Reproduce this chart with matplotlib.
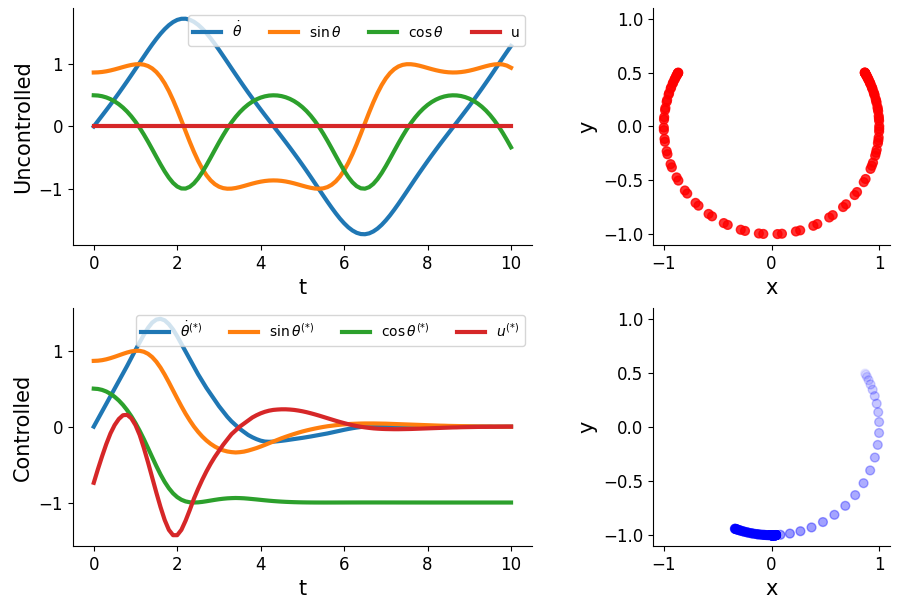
import numpy as np
import matplotlib.pyplot as plt

# time grid (dt = 0.1)
t = np.linspace(0, 10, 101)

# uncontrolled run: angle, angular velocity, control
theta_unc = [
    1.0472, 1.0515, 1.0645, 1.0863, 1.1169, 1.1565, 1.2053, 1.2634, 1.3310, 1.4083,
    1.4955, 1.5927, 1.6999, 1.8170, 1.9438, 2.0799, 2.2248, 2.3776, 2.5373, 2.7027,
    2.8723, 3.0446, 3.2179, 3.3904, 3.5604, 3.7264, 3.8869, 4.0405, 4.1864, 4.3236,
    4.4516, 4.5698, 4.6782, 4.7766, 4.8650, 4.9435, 5.0123, 5.0715, 5.1214, 5.1621,
    5.1938, 5.2166, 5.2307, 5.2359, 5.2327, 5.2208, 5.2000, 5.1705, 5.1320, 5.0843,
    5.0273, 4.9609, 4.8848, 4.7988, 4.7028, 4.5968, 4.4808, 4.3552, 4.2202, 4.0763,
    3.9243, 3.7654, 3.6006, 3.4314, 3.2593, 3.0861, 2.9133, 2.7429, 2.5763, 2.4151,
    2.2605, 2.1136, 1.9754, 1.8463, 1.7268, 1.6172, 1.5176, 1.4283, 1.3487, 1.2788,
    1.2184, 1.1674, 1.1256, 1.0929, 1.0690, 1.0539, 1.0474, 1.0497, 1.0606, 1.0803,
    1.1088, 1.1462, 1.1928, 1.2486, 1.3139, 1.3889, 1.4737, 1.5685, 1.6733, 1.7880,
    1.9125,
]
thetadot_unc = [
    0.000, 0.087, 0.174, 0.262, 0.351, 0.442, 0.534, 0.629, 0.725, 0.823,
    0.922, 1.022, 1.121, 1.220, 1.315, 1.405, 1.488, 1.562, 1.625, 1.675,
    1.710, 1.728, 1.729, 1.713, 1.680, 1.632, 1.571, 1.498, 1.415, 1.326,
    1.231, 1.133, 1.034, 0.934, 0.835, 0.737, 0.640, 0.545, 0.453, 0.362,
    0.272, 0.184, 0.097, 0.010, -0.076, -0.163, -0.251, -0.340, -0.431, -0.523,
    -0.617, -0.713, -0.811, -0.910, -1.010, -1.110, -1.208, -1.303, -1.394, -1.479,
    -1.554, -1.619, -1.670, -1.707, -1.727, -1.730, -1.716, -1.685, -1.639, -1.579,
    -1.507, -1.426, -1.337, -1.243, -1.145, -1.046, -0.946, -0.846, -0.748, -0.652,
    -0.557, -0.464, -0.373, -0.283, -0.195, -0.108, -0.021, 0.066, 0.153, 0.241,
    0.329, 0.420, 0.512, 0.606, 0.702, 0.799, 0.898, 0.998, 1.098, 1.196,
    1.292,
]
u_unc = np.zeros(len(t))

# controlled run
theta_ctl = [
    1.047, 1.052, 1.066, 1.090, 1.124, 1.167, 1.219, 1.281, 1.353, 1.434,
    1.525, 1.626, 1.737, 1.857, 1.984, 2.117, 2.252, 2.387, 2.518, 2.644,
    2.761, 2.870, 2.970, 3.059, 3.140, 3.210, 3.272, 3.325, 3.370, 3.407,
    3.437, 3.459, 3.475, 3.484, 3.489, 3.485, 3.477, 3.463, 3.446, 3.428,
    3.407, 3.385, 3.362, 3.340, 3.318, 3.296, 3.276, 3.257, 3.239, 3.222,
    3.206, 3.192, 3.179, 3.167, 3.156, 3.146, 3.137, 3.130, 3.123, 3.117,
    3.112, 3.108, 3.105, 3.103, 3.101, 3.100, 3.100, 3.100, 3.101, 3.102,
    3.103, 3.105, 3.107, 3.109, 3.111, 3.113, 3.115, 3.117, 3.119, 3.121,
    3.123, 3.125, 3.127, 3.129, 3.130, 3.132, 3.133, 3.134, 3.135, 3.136,
    3.137, 3.138, 3.139, 3.139, 3.140, 3.140, 3.141, 3.141, 3.141, 3.1416,
    3.1416,
]
thetadot_ctl = [
    0.000, 0.100, 0.200, 0.300, 0.400, 0.500, 0.600, 0.700, 0.800, 0.905,
    1.010, 1.110, 1.210, 1.300, 1.370, 1.410, 1.420, 1.400, 1.350, 1.280,
    1.190, 1.090, 0.990, 0.890, 0.790, 0.690, 0.600, 0.510, 0.430, 0.350,
    0.270, 0.200, 0.130, 0.070, 0.020, -0.030, -0.070, -0.110, -0.140, -0.165,
    -0.185, -0.197, -0.200, -0.198, -0.193, -0.187, -0.180, -0.172, -0.164, -0.156,
    -0.148, -0.139, -0.130, -0.120, -0.110, -0.100, -0.090, -0.078, -0.066, -0.054,
    -0.042, -0.031, -0.021, -0.012, -0.005, 0.000, 0.004, 0.007, 0.009, 0.011,
    0.012, 0.012, 0.012, 0.012, 0.011, 0.011, 0.010, 0.009, 0.009, 0.008,
    0.007, 0.006, 0.006, 0.005, 0.005, 0.004, 0.004, 0.003, 0.003, 0.002,
    0.002, 0.002, 0.001, 0.001, 0.001, 0.001, 0.000, 0.000, 0.000, 0.000,
    0.000,
]
u_ctl = [
    -0.740, -0.560, -0.390, -0.230, -0.090, 0.020, 0.100, 0.150, 0.155, 0.110,
    0.020, -0.110, -0.280, -0.470, -0.670, -0.870, -1.060, -1.230, -1.360, -1.430,
    -1.430, -1.360, -1.240, -1.100, -0.950, -0.820, -0.700, -0.590, -0.490, -0.400,
    -0.320, -0.240, -0.170, -0.100, -0.050, 0.000, 0.040, 0.080, 0.120, 0.150,
    0.175, 0.195, 0.210, 0.220, 0.225, 0.228, 0.228, 0.225, 0.220, 0.212,
    0.202, 0.190, 0.176, 0.161, 0.145, 0.128, 0.111, 0.094, 0.077, 0.061,
    0.046, 0.032, 0.019, 0.008, -0.002, -0.010, -0.017, -0.023, -0.027, -0.030,
    -0.032, -0.033, -0.034, -0.034, -0.033, -0.032, -0.031, -0.029, -0.027, -0.025,
    -0.023, -0.021, -0.019, -0.017, -0.015, -0.013, -0.011, -0.010, -0.008, -0.007,
    -0.006, -0.005, -0.004, -0.003, -0.003, -0.002, -0.002, -0.001, -0.001, 0.000,
    0.000,
]

labels_unc = [r"$\dot{\theta}$", r"$\sin\theta$", r"$\cos\theta$", "u"]
labels_ctl = [r"$\dot{\theta}^{(*)}$", r"$\sin\theta^{(*)}$",
              r"$\cos\theta^{(*)}$", r"$u^{(*)}$"]

fig = plt.figure(figsize=(9, 6.11), dpi=100)
ax_tl = fig.add_axes([0.081, 0.599, 0.510, 0.388])
ax_tr = fig.add_axes([0.7256, 0.599, 0.2633, 0.388])
ax_bl = fig.add_axes([0.081, 0.1064, 0.510, 0.3895])
ax_br = fig.add_axes([0.7256, 0.1064, 0.2633, 0.3895])

# point transparency: red run kept mostly opaque, blue run fades in over time
alpha_unc = np.full(len(t), 0.8)
alpha_ctl = np.linspace(0, 1, len(t)) ** 0.6

rows = [
    (ax_tl, ax_tr, theta_unc, thetadot_unc, u_unc, labels_unc, "Uncontrolled", "red", alpha_unc),
    (ax_bl, ax_br, theta_ctl, thetadot_ctl, u_ctl, labels_ctl, "Controlled", "blue", alpha_ctl),
]

for ax, ax_xy, theta, thetadot, u, labels, name, col, alphas in rows:
    theta = np.asarray(theta)
    ax.plot(t, thetadot, lw=3, label=labels[0])
    ax.plot(t, np.sin(theta), lw=3, label=labels[1])
    ax.plot(t, np.cos(theta), lw=3, label=labels[2])
    ax.plot(t, u, lw=3, label=labels[3])
    ax.set_xlabel("t", fontsize=15)
    ax.set_ylabel(name, fontsize=15)
    ax.set_xticks([0, 2, 4, 6, 8, 10])
    ax.set_yticks([-1, 0, 1])
    ax.legend(loc="upper right", ncol=4, fontsize=10)

    ax_xy.scatter(np.sin(theta), np.cos(theta), s=40, color=col, alpha=alphas)
    ax_xy.set_xlim(-1.1, 1.1)
    ax_xy.set_ylim(-1.1, 1.1)
    ax_xy.set_xticks([-1, 0, 1])
    ax_xy.set_yticks([-1.0, -0.5, 0.0, 0.5, 1.0])
    ax_xy.set_xlabel("x", fontsize=15)
    ax_xy.set_ylabel("y", fontsize=15)

for ax in (ax_tl, ax_tr, ax_bl, ax_br):
    ax.spines["top"].set_visible(False)
    ax.spines["right"].set_visible(False)
    ax.tick_params(labelsize=12)

fig.savefig("out.png", dpi=100)
